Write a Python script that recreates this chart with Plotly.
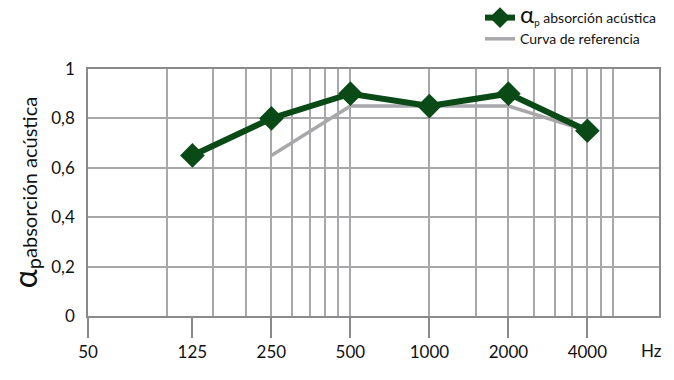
import plotly.graph_objects as go
import numpy as np

freqs = [125, 250, 500, 1000, 2000, 4000]
alpha_p = [0.65, 0.80, 0.90, 0.85, 0.90, 0.75]
ref_freqs = [250, 500, 1000, 2000, 4000]
ref_vals = [0.65, 0.85, 0.85, 0.85, 0.75]
x_tickvals = [50, 125, 250, 500, 1000, 2000, 4000]
x_ticktext = ["50", "125", "250", "500", "1000", "2000", "4000"]
grid_vals = [100, 150, 200, 250, 300, 350, 400, 450, 500,
             1000, 1500, 2000, 2500, 3000, 3500, 4000, 4500, 5000]
y_tickvals = [0, 0.2, 0.4, 0.6, 0.8, 1]
y_ticktext = ["0", "0,2", "0,4", "0,6", "0,8", "1"]

FONT = "Lato"
GREEN = "#0a4a16"
GRAY = "#a8a8aa"

fig = go.Figure()
fig.add_trace(go.Scatter(
    x=ref_freqs, y=ref_vals, mode="lines",
    line=dict(color=GRAY, width=3.5),
    name="Curva de referencia",
))
fig.add_trace(go.Scatter(
    x=freqs, y=alpha_p, mode="lines+markers",
    line=dict(color=GREEN, width=6),
    marker=dict(symbol="diamond", size=19, color=GREEN),
    name="<span style='font-size:24px'>α</span><sub>p</sub> absorción acústica",
))

PH = 380 - 69 - 64
fig.update_layout(
    width=674, height=380,
    margin=dict(l=88, r=15, t=69, b=64, autoexpand=False),
    plot_bgcolor="white", paper_bgcolor="white",
    font=dict(family=FONT, size=17, color="#111"),
    separators=",.",
    showlegend=True,
    legend=dict(
        x=1.0 + 3 / (674 - 88 - 15), xanchor="right",
        y=1 + (69 - 2) / PH, yanchor="top",
        traceorder="reversed",
        font=dict(family=FONT, size=14, color="#111"),
        bgcolor="rgba(0,0,0,0)",
        itemwidth=30,
        tracegroupgap=0,
    ),
    xaxis=dict(
        type="log",
        range=[np.log10(50), np.log10(7500)],
        tickmode="array", tickvals=x_tickvals, ticktext=x_ticktext,
        ticks="outside", ticklen=20, tickcolor="#8a8a8c", tickwidth=1.5,
        showgrid=False, zeroline=False,
        showline=True, linecolor="#8a8a8c", linewidth=1.5, mirror=True,
        minor=dict(tickmode="array", tickvals=grid_vals, showgrid=True,
                   gridcolor=GRAY, gridwidth=1.5, ticks=""),
        tickfont=dict(size=17),
    ),
    yaxis=dict(
        range=[0, 1],
        tickmode="array", tickvals=y_tickvals, ticktext=y_ticktext,
        showgrid=True, gridcolor=GRAY, gridwidth=1.5,
        zeroline=False,
        showline=True, linecolor="#8a8a8c", linewidth=1.5, mirror=True,
        ticks="", ticklabelstandoff=8,
        title=dict(text="<span style='font-size:32px'>α</span><sub><span style='font-size:20px'>p</span></sub>absorción acústica",
                   font=dict(size=20), standoff=8),
    ),
)
fig.add_annotation(x=(651 - 88) / (674 - 88 - 15), xref="paper", xanchor="center",
                   y=-(350 - 316) / PH, yref="paper", yanchor="middle",
                   text="Hz", showarrow=False, font=dict(size=17))
fig.write_html("out.html")
